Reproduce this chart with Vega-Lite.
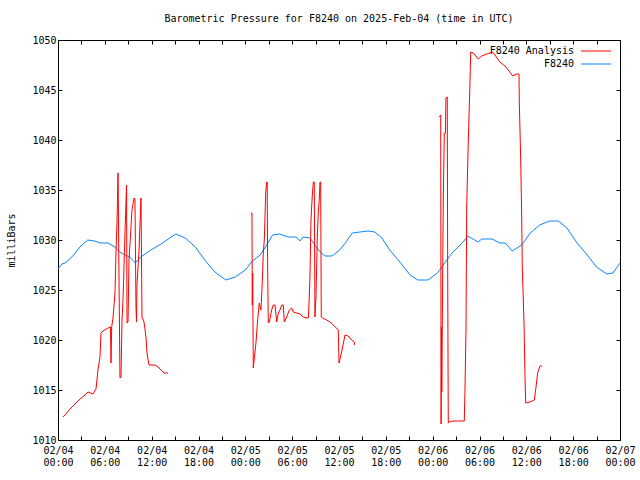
{
  "$schema": "https://vega.github.io/schema/vega-lite/v6.json",
  "width": 562,
  "height": 400,
  "autosize": {"type": "none"},
  "padding": {"left": 58, "top": 40, "right": 20, "bottom": 40},
  "background": "white",
  "title": {"text": "Barometric Pressure for F8240 on 2025-Feb-04 (time in UTC)", "font": "DejaVu Sans Mono", "fontSize": 10, "fontWeight": "normal", "offset": 11, "color": "black"},
  "config": {"view": {"stroke": "black", "strokeWidth": 1}, "font": "DejaVu Sans Mono"},
  "datasets": {
    "blue": [
      {"t":0,"p":1027.1},{"t":0.5,"p":1027.6},{"t":0.9,"p":1027.7},{"t":1.9,"p":1028.4},{"t":2.8,"p":1029.3},{"t":3.8,"p":1030.0},{"t":4.7,"p":1029.9},{"t":5.4,"p":1029.7},{"t":6.4,"p":1029.7},{"t":7.3,"p":1029.3},{"t":7.9,"p":1028.8},{"t":8.6,"p":1028.5},{"t":9.2,"p":1028.3},{"t":9.9,"p":1027.7},{"t":10.6,"p":1028.3},{"t":11.9,"p":1029.0},{"t":13.2,"p":1029.6},{"t":14.5,"p":1030.3},{"t":15.1,"p":1030.6},{"t":16.3,"p":1030.2},{"t":17.6,"p":1029.3},{"t":18.8,"p":1028.0},{"t":20.1,"p":1026.8},{"t":21.5,"p":1026.0},{"t":22.7,"p":1026.3},{"t":24.0,"p":1027.0},{"t":24.9,"p":1027.9},{"t":25.9,"p":1028.5},{"t":26.5,"p":1029.2},{"t":27.5,"p":1030.5},{"t":28.4,"p":1030.6},{"t":29.5,"p":1030.3},{"t":30.5,"p":1030.3},{"t":31.0,"p":1029.9},{"t":31.4,"p":1030.3},{"t":32.3,"p":1030.2},{"t":32.9,"p":1029.5},{"t":33.6,"p":1028.8},{"t":34.2,"p":1028.4},{"t":35.1,"p":1028.4},{"t":36.1,"p":1029.0},{"t":36.8,"p":1029.7},{"t":37.7,"p":1030.7},{"t":38.7,"p":1030.8},{"t":39.7,"p":1030.9},{"t":40.6,"p":1030.8},{"t":41.5,"p":1030.2},{"t":42.5,"p":1029.0},{"t":43.8,"p":1027.8},{"t":45.1,"p":1026.5},{"t":46.1,"p":1026.0},{"t":47.4,"p":1026.0},{"t":48.6,"p":1026.7},{"t":49.0,"p":1027.1},{"t":49.6,"p":1027.8},{"t":50.6,"p":1028.8},{"t":51.9,"p":1029.8},{"t":52.5,"p":1030.4},{"t":53.8,"p":1029.8},{"t":54.3,"p":1030.1},{"t":55.6,"p":1030.1},{"t":56.6,"p":1029.7},{"t":57.3,"p":1029.7},{"t":58.2,"p":1028.9},{"t":59.4,"p":1029.5},{"t":60.5,"p":1030.7},{"t":61.7,"p":1031.5},{"t":63.0,"p":1031.9},{"t":64.1,"p":1031.9},{"t":65.2,"p":1031.2},{"t":66.5,"p":1029.7},{"t":67.8,"p":1028.5},{"t":69.0,"p":1027.3},{"t":70.3,"p":1026.6},{"t":71.1,"p":1026.7},{"t":72.0,"p":1027.7}
    ],
    "red": [
      {"g":1,"t":0.64,"p":1012.3},{"g":1,"t":1.0,"p":1012.6},{"g":1,"t":1.54,"p":1013.1},{"g":1,"t":2.18,"p":1013.6},{"g":1,"t":2.82,"p":1014.1},{"g":1,"t":3.46,"p":1014.5},{"g":1,"t":3.84,"p":1014.8},{"g":1,"t":4.48,"p":1014.6},{"g":1,"t":4.87,"p":1015.1},{"g":1,"t":5.12,"p":1017.0},{"g":1,"t":5.38,"p":1018.3},{"g":1,"t":5.51,"p":1020.7},{"g":1,"t":5.76,"p":1020.9},{"g":1,"t":6.41,"p":1021.2},{"g":1,"t":6.73,"p":1021.3},{"g":1,"t":6.79,"p":1017.7},{"g":1,"t":6.88,"p":1021.3},{"g":1,"t":7.05,"p":1022.2},{"g":1,"t":7.3,"p":1024.7},{"g":1,"t":7.43,"p":1028.7},{"g":1,"t":7.56,"p":1031.8},{"g":1,"t":7.69,"p":1036.7},{"g":1,"t":7.81,"p":1026.7},{"g":1,"t":7.94,"p":1016.2},{"g":1,"t":8.07,"p":1016.3},{"g":1,"t":8.2,"p":1022.0},{"g":1,"t":8.33,"p":1024.0},{"g":1,"t":8.58,"p":1030.7},{"g":1,"t":8.71,"p":1033.8},{"g":1,"t":8.78,"p":1035.5},{"g":1,"t":8.84,"p":1021.7},{"g":1,"t":8.97,"p":1021.8},{"g":1,"t":9.1,"p":1028.0},{"g":1,"t":9.35,"p":1031.3},{"g":1,"t":9.48,"p":1033.0},{"g":1,"t":9.74,"p":1034.2},{"g":1,"t":9.86,"p":1034.1},{"g":1,"t":9.99,"p":1023.3},{"g":1,"t":10.06,"p":1021.8},{"g":1,"t":10.12,"p":1025.5},{"g":1,"t":10.38,"p":1029.0},{"g":1,"t":10.63,"p":1034.2},{"g":1,"t":10.7,"p":1028.0},{"g":1,"t":10.76,"p":1022.3},{"g":1,"t":11.02,"p":1021.8},{"g":1,"t":11.27,"p":1020.3},{"g":1,"t":11.4,"p":1018.7},{"g":1,"t":11.66,"p":1017.5},{"g":1,"t":12.43,"p":1017.5},{"g":1,"t":12.81,"p":1017.3},{"g":1,"t":13.2,"p":1017.0},{"g":1,"t":13.58,"p":1016.7},{"g":1,"t":14.09,"p":1016.7},
      {"g":2,"t":24.72,"p":1032.7},{"g":2,"t":24.85,"p":1032.7},{"g":2,"t":24.89,"p":1023.5},{"g":2,"t":24.94,"p":1026.7},{"g":2,"t":25.02,"p":1017.2},{"g":2,"t":25.24,"p":1018.8},{"g":2,"t":25.37,"p":1019.8},{"g":2,"t":25.58,"p":1022.0},{"g":2,"t":25.79,"p":1023.7},{"g":2,"t":25.88,"p":1023.3},{"g":2,"t":26.0,"p":1023.0},{"g":2,"t":26.17,"p":1025.7},{"g":2,"t":26.3,"p":1028.7},{"g":2,"t":26.43,"p":1030.0},{"g":2,"t":26.61,"p":1034.7},{"g":2,"t":26.74,"p":1035.8},{"g":2,"t":26.8,"p":1035.8},{"g":2,"t":26.86,"p":1027.0},{"g":2,"t":26.94,"p":1021.7},{"g":2,"t":27.07,"p":1021.8},{"g":2,"t":27.38,"p":1023.0},{"g":2,"t":27.58,"p":1023.5},{"g":2,"t":27.8,"p":1023.5},{"g":2,"t":28.02,"p":1021.8},{"g":2,"t":28.22,"p":1022.7},{"g":2,"t":28.44,"p":1023.0},{"g":2,"t":28.66,"p":1023.5},{"g":2,"t":28.86,"p":1023.5},{"g":2,"t":28.99,"p":1021.8},{"g":2,"t":29.3,"p":1022.3},{"g":2,"t":29.63,"p":1023.0},{"g":2,"t":29.94,"p":1023.2},{"g":2,"t":30.14,"p":1022.8},{"g":2,"t":30.58,"p":1022.7},{"g":2,"t":31.0,"p":1022.6},{"g":2,"t":31.43,"p":1022.3},{"g":2,"t":31.77,"p":1022.2},{"g":2,"t":32.07,"p":1022.2},{"g":2,"t":32.15,"p":1023.5},{"g":2,"t":32.28,"p":1026.3},{"g":2,"t":32.41,"p":1032.0},{"g":2,"t":32.58,"p":1034.5},{"g":2,"t":32.71,"p":1035.8},{"g":2,"t":32.83,"p":1035.8},{"g":2,"t":32.92,"p":1022.3},{"g":2,"t":33.05,"p":1024.3},{"g":2,"t":33.22,"p":1030.3},{"g":2,"t":33.35,"p":1032.8},{"g":2,"t":33.47,"p":1034.0},{"g":2,"t":33.56,"p":1035.8},{"g":2,"t":33.65,"p":1035.8},{"g":2,"t":33.73,"p":1022.3},{"g":2,"t":33.91,"p":1022.2},{"g":2,"t":34.42,"p":1022.0},{"g":2,"t":34.85,"p":1021.8},{"g":2,"t":35.27,"p":1021.5},{"g":2,"t":35.91,"p":1021.0},{"g":2,"t":36.0,"p":1017.7},{"g":2,"t":36.34,"p":1018.8},{"g":2,"t":36.77,"p":1020.5},{"g":2,"t":37.19,"p":1020.4},{"g":2,"t":37.62,"p":1020.0},{"g":2,"t":37.96,"p":1019.8},{"g":2,"t":37.98,"p":1019.5},
      {"g":3,"t":48.85,"p":1042.3},{"g":3,"t":49.03,"p":1042.5},{"g":3,"t":49.08,"p":1011.6},{"g":3,"t":49.12,"p":1021.3},{"g":3,"t":49.17,"p":1014.8},{"g":3,"t":49.23,"p":1021.3},{"g":3,"t":49.36,"p":1034.0},{"g":3,"t":49.49,"p":1040.7},{"g":3,"t":49.64,"p":1040.7},{"g":3,"t":49.7,"p":1044.2},{"g":3,"t":49.87,"p":1044.3},{"g":3,"t":49.92,"p":1028.0},{"g":3,"t":50.0,"p":1011.7},{"g":3,"t":50.13,"p":1011.8},{"g":3,"t":50.64,"p":1011.9},{"g":3,"t":52.05,"p":1011.9},{"g":3,"t":52.14,"p":1015.0},{"g":3,"t":52.27,"p":1021.0},{"g":3,"t":52.36,"p":1033.3},{"g":3,"t":52.56,"p":1039.7},{"g":3,"t":52.78,"p":1045.8},{"g":3,"t":52.87,"p":1048.8},{"g":3,"t":53.2,"p":1048.7},{"g":3,"t":53.84,"p":1048.1},{"g":3,"t":54.28,"p":1048.4},{"g":3,"t":54.92,"p":1048.6},{"g":3,"t":55.69,"p":1048.8},{"g":3,"t":55.98,"p":1048.5},{"g":3,"t":56.62,"p":1047.8},{"g":3,"t":57.26,"p":1047.4},{"g":3,"t":57.69,"p":1047.0},{"g":3,"t":58.25,"p":1046.4},{"g":3,"t":58.76,"p":1046.6},{"g":3,"t":59.06,"p":1046.6},{"g":3,"t":59.1,"p":1043.8},{"g":3,"t":59.27,"p":1038.3},{"g":3,"t":59.4,"p":1032.8},{"g":3,"t":59.48,"p":1027.3},{"g":3,"t":59.7,"p":1021.8},{"g":3,"t":59.83,"p":1016.3},{"g":3,"t":59.92,"p":1013.7},{"g":3,"t":60.47,"p":1013.8},{"g":3,"t":61.02,"p":1014.0},{"g":3,"t":61.24,"p":1015.3},{"g":3,"t":61.45,"p":1016.7},{"g":3,"t":61.75,"p":1017.4},{"g":3,"t":62.04,"p":1017.4}
    ]
  },
  "layer": [
    {
      "data": {"name": "blue"},
      "mark": {"type": "line", "strokeWidth": 1, "color": "#0a84ff"},
      "encoding": {
        "x": {"field": "t", "type": "quantitative", "scale": {"domain": [0, 72], "nice": false, "zero": false},
          "axis": {"orient": "bottom", "title": null, "values": [0,3,6,9,12,15,18,21,24,27,30,33,36,39,42,45,48,51,54,57,60,63,66,69,72], "domain": false, "grid": false, "tickSize": -4, "tickColor": "black", "labelColor": "black", "labelFont": "DejaVu Sans Mono", "labelFontSize": 10, "labelPadding": 9, "labelLineHeight": 12, "labelOverlap": false, "labelFlush": false, "labelBound": false,
            "labelExpr": "datum.value % 6 === 0 ? ['02/0' + (4 + floor(datum.value / 24)), (datum.value % 24 < 10 ? '0' : '') + (datum.value % 24) + ':00'] : ''"}},
        "y": {"field": "p", "type": "quantitative", "scale": {"domain": [1010, 1050], "nice": false, "zero": false},
          "axis": {"orient": "left", "title": "milliBars", "format": "d", "titleFont": "DejaVu Sans Mono", "titleFontSize": 10, "titleFontWeight": "normal", "titleColor": "black", "titlePadding": 15, "values": [1010,1015,1020,1025,1030,1035,1040,1045,1050], "domain": false, "grid": false, "tickSize": -4, "tickColor": "black", "labelColor": "black", "labelFont": "DejaVu Sans Mono", "labelFontSize": 10, "labelPadding": 6}}
      }
    },
    {
      "data": {"name": "red"},
      "mark": {"type": "line", "strokeWidth": 1, "color": "#ff0000"},
      "encoding": {
        "x": {"field": "t", "type": "quantitative", "axis": {"orient": "top", "title": null, "labels": false, "values": [0,3,6,9,12,15,18,21,24,27,30,33,36,39,42,45,48,51,54,57,60,63,66,69,72], "domain": false, "grid": false, "tickSize": -4, "tickColor": "black"}},
        "y": {"field": "p", "type": "quantitative", "axis": {"orient": "right", "title": null, "labels": false, "values": [1010,1015,1020,1025,1030,1035,1040,1045,1050], "domain": false, "grid": false, "tickSize": -4, "tickColor": "black"}},
        "detail": {"field": "g", "type": "nominal"}
      }
    },
    {
      "data": {"values": [{"s": "F8240 Analysis"}, {"s": "F8240"}]},
      "mark": {"type": "point", "opacity": 0},
      "encoding": {
        "color": {"field": "s", "type": "nominal", "scale": {"domain": ["F8240 Analysis", "F8240"], "range": ["#ff0000", "#0a84ff"]},
          "legend": {"title": null, "orient": "none", "legendX": 530, "legendY": 3, "symbolType": "M-2,0H2", "symbolSize": 225, "symbolStrokeWidth": 1, "symbolOpacity": 1, "labelFont": "DejaVu Sans Mono", "labelFontSize": 10, "labelColor": "black", "labelAlign": "right", "labelOffset": -30, "rowPadding": 0, "padding": 0}}
      }
    }
  ],
  "resolve": {"axis": {"x": "independent", "y": "independent"}}
}
